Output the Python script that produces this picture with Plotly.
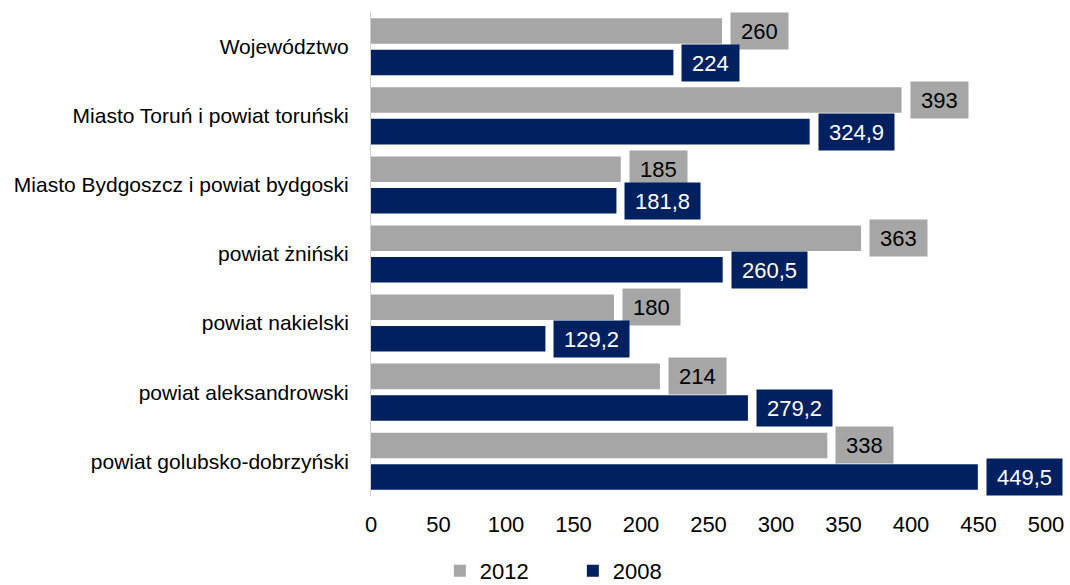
import plotly.graph_objects as go

categories = [
    "Województwo",
    "Miasto Toruń i powiat toruński",
    "Miasto Bydgoszcz i powiat bydgoski",
    "powiat żniński",
    "powiat nakielski",
    "powiat aleksandrowski",
    "powiat golubsko-dobrzyński",
]
values_2012 = [260, 393, 185, 363, 180, 214, 338]
values_2008 = [224, 324.9, 181.8, 260.5, 129.2, 279.2, 449.5]
series_names = ["2012", "2008"]
x_ticks = [0, 50, 100, 150, 200, 250, 300, 350, 400, 450, 500]

GRAY = "#A6A6A6"
NAVY = "#002060"
FONT = "Arial, Liberation Sans, sans-serif"

def fmt(v):
    s = ("%.1f" % v).rstrip("0").rstrip(".")
    return s.replace(".", ",")

def box_width(s, size):
    w = 0
    for ch in s:
        w += 0.278 if ch == "," else 0.556
    return w * size + 20

fig = go.Figure()
fig.add_trace(go.Bar(y=categories, x=values_2012, orientation="h", name=series_names[0],
                     marker=dict(color=GRAY, line=dict(width=0))))
fig.add_trace(go.Bar(y=categories, x=values_2008, orientation="h", name=series_names[1],
                     marker=dict(color=NAVY, line=dict(width=0))))

bargap = 0.087
bargroupgap = 0.19
slot = (1 - bargap) / 2
offsets = [-slot / 2, slot / 2]
LBL = 22
annotations = []
for si, (vals, bg, fc) in enumerate([(values_2012, GRAY, "black"), (values_2008, NAVY, "white")]):
    for i, v in enumerate(vals):
        t = fmt(v)
        annotations.append(dict(
            x=v, y=i + offsets[si], xref="x", yref="y", text=t, showarrow=False,
            xanchor="left", yanchor="middle", xshift=8,
            bgcolor=bg, font=dict(color=fc, size=LBL, family=FONT),
            width=box_width(t, LBL) - 2, height=34, borderpad=1, align="center",
        ))

fig.update_layout(
    width=1070, height=585,
    margin=dict(l=371, r=24, t=12, b=89, autoexpand=False),
    barmode="group", bargap=bargap, bargroupgap=bargroupgap,
    plot_bgcolor="white", paper_bgcolor="white",
    font=dict(family=FONT, size=21, color="black"),
    showlegend=True,
    legend=dict(orientation="h", x=0.102, xanchor="left", yref="container", y=0.024,
                yanchor="middle", font=dict(size=22), entrywidth=88,
                entrywidthmode="pixels", itemwidth=30),
    annotations=annotations,
)
fig.update_xaxes(range=[0, 500], tickvals=x_ticks, ticktext=[str(t) for t in x_ticks],
                 showgrid=False, zeroline=False, showline=False, automargin=False,
                 ticks="outside", ticklen=9, tickcolor="rgba(0,0,0,0)",
                 tickfont=dict(size=22))
fig.update_yaxes(categoryorder="array", categoryarray=categories, autorange="reversed",
                 showgrid=False, showline=True, linecolor="#D0D0D0", linewidth=1,
                 automargin=False,
                 ticks="outside", ticklen=17, tickcolor="rgba(0,0,0,0)",
                 tickfont=dict(size=21))

fig.write_html("out.html", config={"displayModeBar": False},
               post_script="document.body.style.margin='0';")
